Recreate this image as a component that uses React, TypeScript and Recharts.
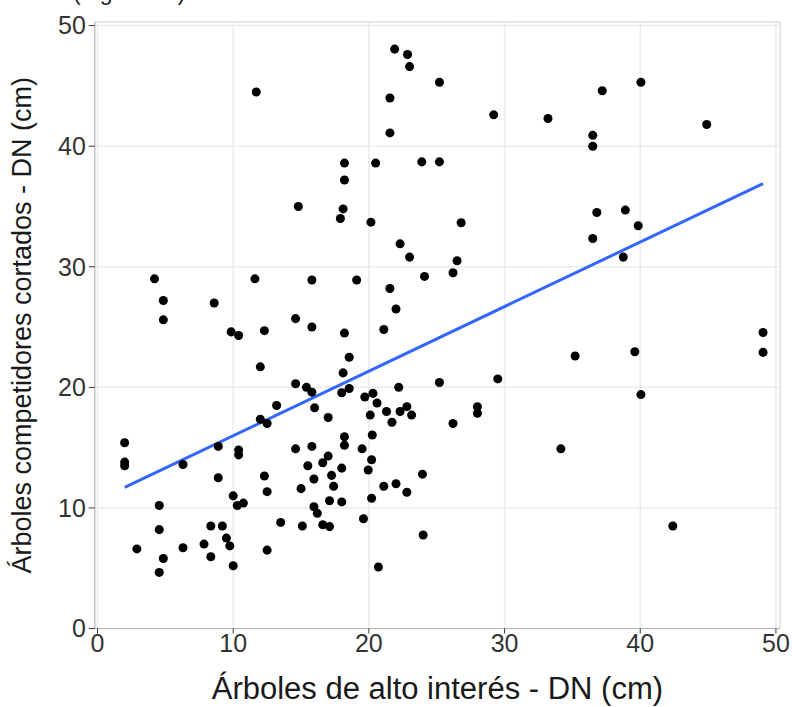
import {
  ScatterChart,
  Scatter,
  XAxis,
  YAxis,
  ZAxis,
  CartesianGrid,
  ReferenceLine,
} from 'recharts';

// DN de árboles de alto interés (x) y de competidores cortados (y)
const altoInteres = [
  11.7, 14.8, 4.2, 11.6, 15.8, 4.85, 8.6, 4.85, 14.6, 15.8, 9.85, 10.4, 12.3, 12.0, 14.6,
  15.4, 15.8, 16.0, 13.2, 12.0, 12.5, 2.0, 2.0, 2.0, 6.3, 8.9, 10.4, 10.4, 8.9, 12.3,
  12.5, 14.6, 15.8, 15.5, 15.95, 15.0, 10.0, 10.3, 10.75, 4.55, 15.95, 16.2, 13.5, 15.1, 4.55,
  8.35, 9.2, 9.5, 9.75, 7.85, 6.3, 2.9, 8.35, 4.85, 4.55, 10.0, 12.5, 21.9, 22.85, 23.0,
  25.2, 21.55, 29.2, 21.55, 18.2, 20.5, 23.9, 25.2, 18.2, 18.1, 17.9, 20.15, 26.8, 22.3, 23.0,
  26.5, 26.2, 19.1, 24.1, 21.55, 22.0, 21.1, 18.2, 18.55, 18.1, 18.55, 18.0, 17.0, 19.7, 20.3,
  20.6, 20.1, 21.3, 21.7, 22.2, 22.3, 22.8, 23.15, 25.2, 29.5, 28.0, 28.0, 26.2, 20.25, 18.2,
  18.2, 19.5, 17.0, 16.6, 18.0, 20.2, 19.95, 17.25, 17.4, 23.95, 21.1, 22.0, 22.8, 20.2, 17.1,
  18.0, 16.6, 17.1, 19.6, 24.0, 20.7, 33.2, 37.2, 40.05, 44.9, 36.5, 36.5, 36.8, 38.9, 39.85,
  36.5, 38.75, 49.05, 49.05, 35.2, 39.6, 40.05, 34.15, 42.4,
];
const competidores = [
  44.5, 35.0, 29.0, 29.0, 28.9, 27.2, 27.0, 25.6, 25.7, 25.0, 24.6, 24.3, 24.7, 21.7, 20.3,
  20.0, 19.6, 18.3, 18.5, 17.35, 17.0, 15.4, 13.8, 13.5, 13.6, 15.1, 14.8, 14.4, 12.5, 12.65,
  11.35, 14.9, 15.1, 13.5, 12.4, 11.6, 11.0, 10.2, 10.4, 10.2, 10.1, 9.55, 8.8, 8.5, 8.2,
  8.5, 8.5, 7.5, 6.85, 7.0, 6.7, 6.6, 5.95, 5.8, 4.65, 5.2, 6.5, 48.05, 47.6, 46.6,
  45.3, 44.0, 42.6, 41.1, 38.6, 38.6, 38.7, 38.7, 37.2, 34.8, 34.0, 33.7, 33.65, 31.9, 30.8,
  30.5, 29.5, 28.9, 29.2, 28.2, 26.5, 24.8, 24.5, 22.5, 21.2, 19.9, 19.55, 17.5, 19.2, 19.5,
  18.7, 17.7, 18.0, 17.1, 20.0, 18.0, 18.4, 17.7, 20.4, 20.7, 18.4, 17.85, 17.0, 16.05, 15.9,
  15.2, 14.9, 14.3, 13.75, 13.3, 14.0, 13.15, 12.7, 11.8, 12.8, 11.8, 12.0, 11.3, 10.8, 10.6,
  10.5, 8.6, 8.45, 9.1, 7.75, 5.1, 42.3, 44.6, 45.3, 41.8, 40.9, 40.0, 34.5, 34.7, 33.4,
  32.35, 30.8, 24.55, 22.9, 22.6, 22.95, 19.4, 14.9, 8.5,
];

// recta de ajuste (extremos)
const ajusteX = [2.0, 49.05];
const ajusteY = [11.7, 36.9];

const ticks = [0, 10, 20, 30, 40, 50];

const puntos = altoInteres.map((x, i) => ({ x, y: competidores[i] }));

const font = '"Liberation Sans", Arial, sans-serif';

function YLabel({ viewBox }: any) {
  const cx = viewBox.x + 22;
  const cy = viewBox.y + viewBox.height / 2;
  return (
    <text
      x={cx}
      y={cy}
      transform={`rotate(-90 ${cx} ${cy})`}
      textAnchor="middle"
      dominantBaseline="central"
      fontSize={27}
      fontFamily={font}
      fill="#1a1a1a"
    >
      Árboles competidores cortados - DN (cm)
    </text>
  );
}

export default function App() {
  return (
    <div style={{ position: 'absolute', left: 0, top: 0, width: 792, height: 707, background: '#fff' }}>
      <svg width={300} height={14} style={{ position: 'absolute', left: 0, top: 0 }}>
        <text x={73} y={0} fontSize={23} fontFamily={font} fill="#1a1a1a">
          (Figura 12)
        </text>
      </svg>
      <ScatterChart
        width={792}
        height={707}
        margin={{ top: 22, right: 12, bottom: 0, left: 0 }}
      >
        <CartesianGrid stroke="#ebebeb" strokeWidth={1.5} />
        <XAxis
          type="number"
          dataKey="x"
          domain={[-0.2, 50.3]}
          ticks={ticks}
          allowDataOverflow
          height={78.5}
          tick={{ fontSize: 25, fill: '#333', fontFamily: font }}
          tickLine={{ stroke: '#333' }}
          tickSize={5}
          tickMargin={1}
          axisLine={{ stroke: '#b3b3b3' }}
          label={{
            value: 'Árboles de alto interés - DN (cm)',
            position: 'insideBottom',
            offset: 8,
            fontSize: 31,
            fontFamily: font,
            fill: '#1a1a1a',
          }}
        />
        <YAxis
          type="number"
          dataKey="y"
          domain={[0, 50.3]}
          ticks={ticks}
          allowDataOverflow
          width={94.8}
          tick={{ fontSize: 25, fill: '#333', fontFamily: font }}
          tickLine={{ stroke: '#333' }}
          tickSize={6}
          tickMargin={3}
          axisLine={{ stroke: '#b3b3b3' }}
          label={<YLabel />}
        />
        <ZAxis range={[110, 110]} />
        <ReferenceLine y={50.3} stroke="#d9d9d9" />
        <ReferenceLine x={50.3} stroke="#d9d9d9" />
        <Scatter data={puntos} fill="#000" isAnimationActive={false} />
        <ReferenceLine
          segment={[
            { x: ajusteX[0], y: ajusteY[0] },
            { x: ajusteX[1], y: ajusteY[1] },
          ]}
          stroke="#3366ff"
          strokeWidth={3}
        />
      </ScatterChart>
    </div>
  );
}
